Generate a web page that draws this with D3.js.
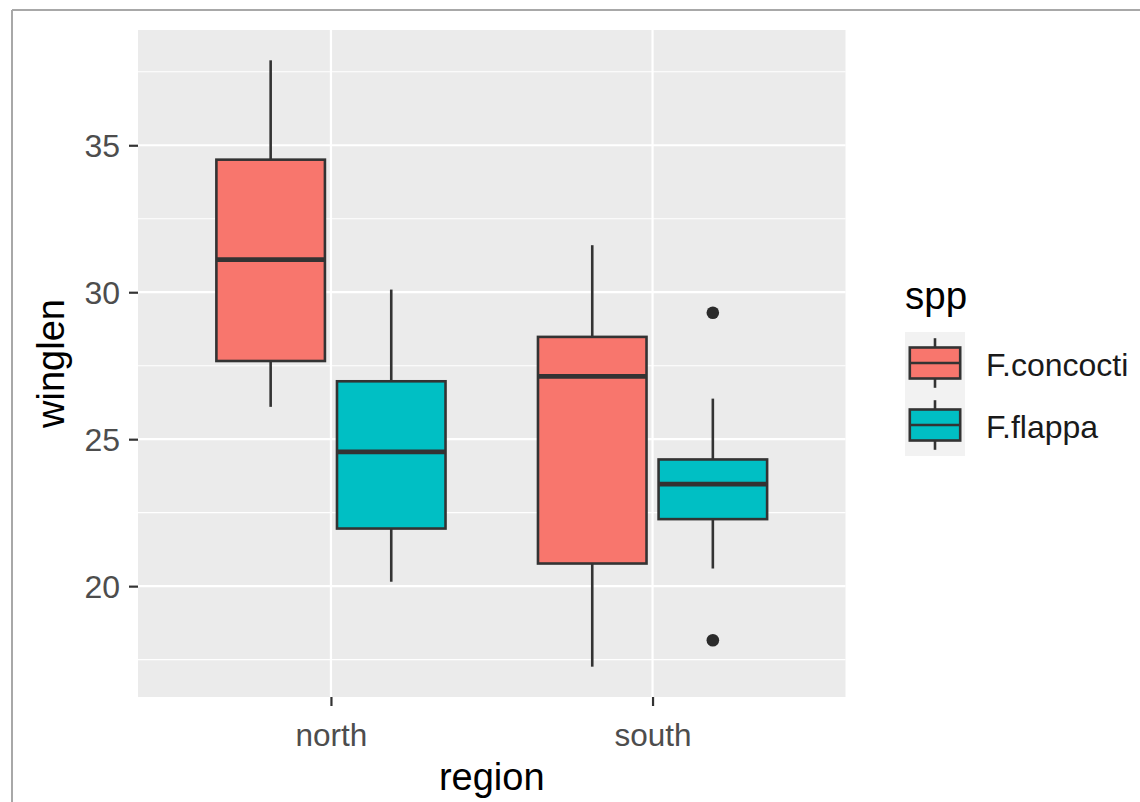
<!DOCTYPE html>
<html>
<head>
<meta charset="utf-8">
<script src="https://cdn.jsdelivr.net/npm/d3@7"></script>
<style>
  html, body { margin: 0; padding: 0; background: #ffffff; }
  svg { display: block; font-family: "Liberation Sans", Arial, sans-serif; }
</style>
</head>
<body>
<svg id="chart" width="1140" height="802"></svg>
<script>
// Categories
const regions = ["north", "south"];
const species = ["F.concocti", "F.flappa"];

// Box statistics per species, one value per region (north, south)
const concoctiLower  = [26.10, 17.26];
const concoctiQ1     = [27.66, 20.77];
const concoctiMedian = [31.11, 27.14];
const concoctiQ3     = [34.51, 28.48];
const concoctiUpper  = [37.89, 31.60];

const flappaLower  = [20.15, 20.60];
const flappaQ1     = [21.96, 22.28];
const flappaMedian = [24.57, 23.47];
const flappaQ3     = [26.97, 24.31];
const flappaUpper  = [30.09, 26.38];

// Outlying observations: [species, region, value]
const outliers = [
  ["F.flappa", "south", 29.30],
  ["F.flappa", "south", 18.16]
];

const yTicks = [20, 25, 30, 35];
const yMinorTicks = [17.5, 22.5, 27.5, 32.5, 37.5];
const fillColors = ["#F8766D", "#00BFC4"];

// Assemble boxes from the arrays above
const statSets = [
  [concoctiLower, concoctiQ1, concoctiMedian, concoctiQ3, concoctiUpper],
  [flappaLower, flappaQ1, flappaMedian, flappaQ3, flappaUpper]
];
const boxes = [];
species.forEach((sp, si) => {
  regions.forEach((rg, ri) => {
    const s = statSets[si];
    boxes.push({ sp, rg, lower: s[0][ri], q1: s[1][ri], med: s[2][ri], q3: s[3][ri], upper: s[4][ri] });
  });
});

const svg = d3.select("#chart");

// Outer frame lines
svg.append("line").attr("x1", 12).attr("x2", 12).attr("y1", 10).attr("y2", 802)
  .attr("stroke", "#a8a8a8").attr("stroke-width", 2);
svg.append("line").attr("x1", 12).attr("x2", 1140).attr("y1", 10).attr("y2", 10)
  .attr("stroke", "#a8a8a8").attr("stroke-width", 2);

const panel = { left: 138, right: 845.5, top: 30, bottom: 697 };

// Y scale with 5% expansion around the data range
const allVals = boxes.flatMap(b => [b.lower, b.upper]).concat(outliers.map(o => o[2]));
const vMin = d3.min(allVals), vMax = d3.max(allVals);
const pad = (vMax - vMin) * 0.05;
const y = d3.scaleLinear().domain([vMin - pad, vMax + pad]).range([panel.bottom, panel.top]);

// Discrete x scale (0.6 step expansion each side) and dodge within a region
const x = d3.scalePoint().domain(regions).range([panel.left, panel.right]).padding(0.6);
const step = x.step();
const dodge = d3.scaleBand().domain(species).range([-0.375 * step, 0.375 * step]);
const boxW = dodge.bandwidth() * 0.9;
const cx = (rg, sp) => x(rg) + dodge(sp) + dodge.bandwidth() / 2;

// Panel background and grid
svg.append("rect").attr("x", panel.left).attr("y", panel.top)
  .attr("width", panel.right - panel.left).attr("height", panel.bottom - panel.top)
  .attr("fill", "#EBEBEB");

const grid = svg.append("g");
grid.selectAll(".minor").data(yMinorTicks).join("line")
  .attr("x1", panel.left).attr("x2", panel.right)
  .attr("y1", d => y(d)).attr("y2", d => y(d))
  .attr("stroke", "#ffffff").attr("stroke-width", 1.1);
grid.selectAll(".major").data(yTicks).join("line")
  .attr("x1", panel.left).attr("x2", panel.right)
  .attr("y1", d => y(d)).attr("y2", d => y(d))
  .attr("stroke", "#ffffff").attr("stroke-width", 2.2);
grid.selectAll(".vmajor").data(regions).join("line")
  .attr("x1", d => x(d)).attr("x2", d => x(d))
  .attr("y1", panel.top).attr("y2", panel.bottom)
  .attr("stroke", "#ffffff").attr("stroke-width", 2.2);

// Boxplots
const outline = "#333333";
const bx = svg.append("g");
boxes.forEach(b => {
  const c = cx(b.rg, b.sp);
  const fill = fillColors[species.indexOf(b.sp)];
  bx.append("line").attr("x1", c).attr("x2", c).attr("y1", y(b.upper)).attr("y2", y(b.q3))
    .attr("stroke", outline).attr("stroke-width", 2.6);
  bx.append("line").attr("x1", c).attr("x2", c).attr("y1", y(b.q1)).attr("y2", y(b.lower))
    .attr("stroke", outline).attr("stroke-width", 2.6);
  bx.append("rect").attr("x", c - boxW / 2).attr("y", y(b.q3))
    .attr("width", boxW).attr("height", y(b.q1) - y(b.q3))
    .attr("fill", fill).attr("stroke", outline).attr("stroke-width", 2.6);
  bx.append("line").attr("x1", c - boxW / 2).attr("x2", c + boxW / 2)
    .attr("y1", y(b.med)).attr("y2", y(b.med))
    .attr("stroke", outline).attr("stroke-width", 4.8);
});

bx.selectAll("circle").data(outliers).join("circle")
  .attr("cx", d => cx(d[1], d[0])).attr("cy", d => y(d[2]))
  .attr("r", 6.3).attr("fill", "#2b2b2b");

// Y axis
const yAxis = svg.append("g").attr("transform", `translate(${panel.left},0)`)
  .call(d3.axisLeft(y).tickValues(yTicks).tickSize(9).tickPadding(9).tickFormat(d3.format("d")));
yAxis.select(".domain").remove();
yAxis.selectAll(".tick line").attr("stroke", "#333333").attr("stroke-width", 2.2);
yAxis.selectAll(".tick text").attr("fill", "#4D4D4D").attr("font-size", 32)
  .attr("font-family", "Liberation Sans, Arial, sans-serif").attr("dy", "0.36em");

// X axis
const xAxis = svg.append("g").attr("transform", `translate(0,${panel.bottom})`)
  .call(d3.axisBottom(x).tickSize(9));
xAxis.select(".domain").remove();
xAxis.selectAll(".tick line").attr("stroke", "#333333").attr("stroke-width", 2.2);
xAxis.selectAll(".tick text").attr("fill", "#4D4D4D").attr("font-size", 31.5)
  .attr("font-family", "Liberation Sans, Arial, sans-serif")
  .attr("y", 49).attr("dy", 0);

// Axis titles
svg.append("text").attr("x", (panel.left + panel.right) / 2).attr("y", 790)
  .attr("text-anchor", "middle").attr("font-size", 38).attr("fill", "#000")
  .text("region");
svg.append("text")
  .attr("transform", `translate(64,${(panel.top + panel.bottom) / 2}) rotate(-90)`)
  .attr("text-anchor", "middle").attr("font-size", 38).attr("fill", "#000")
  .text("winglen");

// Legend
const legend = svg.append("g");
legend.append("text").attr("x", 905).attr("y", 309).attr("font-size", 38.5).attr("fill", "#000").text("spp");
const keyX = 905, keyW = 60, keyH = 62, keyTop = 332;
species.forEach((sp, i) => {
  const top = keyTop + i * keyH;
  const kc = keyX + keyW / 2;
  legend.append("rect").attr("x", keyX).attr("y", top).attr("width", keyW).attr("height", keyH)
    .attr("fill", "#F2F2F2");
  legend.append("line").attr("x1", kc).attr("x2", kc)
    .attr("y1", top + keyH * 0.1).attr("y2", top + keyH * 0.9)
    .attr("stroke", outline).attr("stroke-width", 2.6);
  legend.append("rect").attr("x", keyX + keyW * 0.08).attr("y", top + keyH * 0.25)
    .attr("width", keyW * 0.84).attr("height", keyH * 0.5)
    .attr("fill", fillColors[i]).attr("stroke", outline).attr("stroke-width", 2.6);
  legend.append("line").attr("x1", keyX + keyW * 0.08).attr("x2", keyX + keyW * 0.92)
    .attr("y1", top + keyH / 2).attr("y2", top + keyH / 2)
    .attr("stroke", outline).attr("stroke-width", 2.6);
  legend.append("text").attr("x", 986).attr("y", top + keyH / 2 + 13)
    .attr("font-size", 32).attr("fill", "#1a1a1a").text(sp);
});
</script>
</body>
</html>
